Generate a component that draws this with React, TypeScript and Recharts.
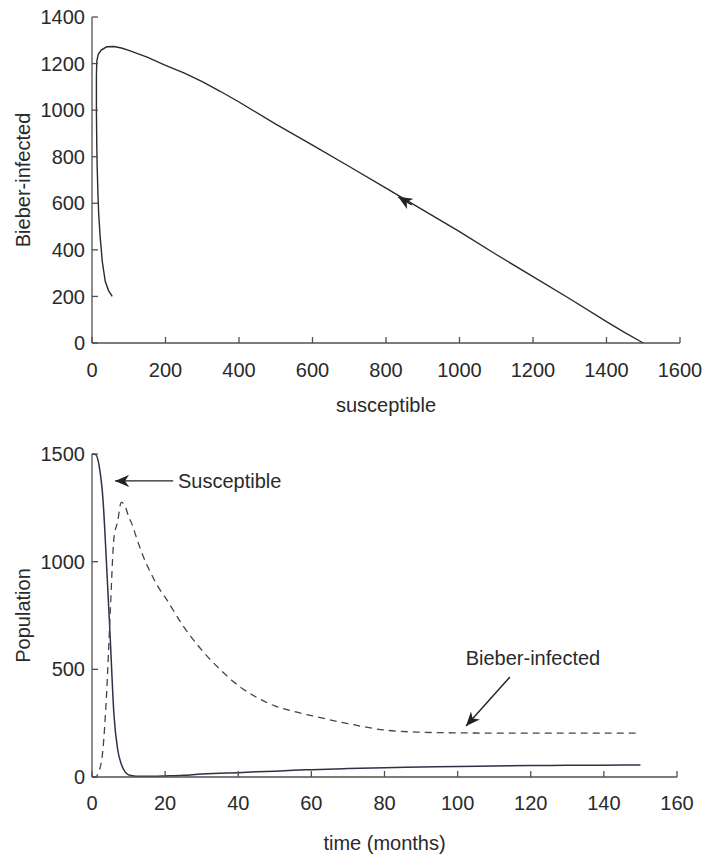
import React from "react";
import { LineChart, Line, XAxis, YAxis, ReferenceLine, ReferenceDot } from "recharts";

// phase plane: trajectory from (1500, 0) up to the peak and back down
const phaseSusceptible = [1500, 1450, 1400, 1300, 1200, 1100, 1000, 900, 800, 700, 600, 500, 400, 350, 300, 250, 200, 150, 100, 80, 60, 40, 25, 17, 13, 12, 12, 13, 14, 16, 18, 22, 28, 36, 45, 55];
const phaseInfected = [0, 45, 92, 190, 285, 380, 478, 572, 665, 758, 850, 940, 1035, 1080, 1122, 1160, 1192, 1228, 1257, 1267, 1273, 1272, 1258, 1240, 1210, 1150, 1000, 850, 760, 650, 560, 460, 350, 265, 225, 200];

// time series
const months = [0, 1, 2, 3, 4, 5, 6, 7, 8, 9, 10, 11, 12, 14, 16, 18, 20, 25, 30, 35, 40, 45, 50, 55, 60, 70, 80, 90, 100, 110, 120, 130, 140, 150];
const susceptible = [1500, 1497, 1440, 1290, 980, 640, 290, 130, 60, 25, 10, 6, 4, 3, 3, 4, 5, 8, 14, 17, 20, 24, 27, 31, 34, 39, 43, 46, 49, 51, 53, 54, 55, 56];
const infected = [0, 2, 30, 130, 390, 770, 1110, 1185, 1275, 1260, 1210, 1172, 1120, 1025, 950, 885, 835, 700, 590, 500, 425, 370, 330, 305, 285, 248, 218, 208, 205, 204, 204, 204, 204, 204];

const phaseXTicks = [0, 200, 400, 600, 800, 1000, 1200, 1400, 1600];
const phaseYTicks = [0, 200, 400, 600, 800, 1000, 1200, 1400];
const timeTicks = [0, 20, 40, 60, 80, 100, 120, 140, 160];
const popTicks = [0, 500, 1000, 1500];

const phaseData = phaseSusceptible.map((s, k) => ({ s, i: phaseInfected[k] }));
const timeData = months.map((t, k) => ({ t, s: susceptible[k], i: infected[k] }));

const FONT = "'Liberation Sans', Arial, sans-serif";
const AX = "#505050";
const tickStyle = { fill: "#2a2a2a", fontSize: 20, fontFamily: FONT };
const blank = () => "";

function VLabel({ viewBox, text }: any) {
  const x = 23;
  const y = viewBox ? viewBox.y + viewBox.height / 2 : 0;
  return (
    <text x={x} y={y} transform={`rotate(-90 ${x} ${y})`} textAnchor="middle" dominantBaseline="central" fill="#2a2a2a" fontSize={20} fontFamily={FONT}>
      {text}
    </text>
  );
}

function HLabel({ viewBox, text, dy }: any) {
  const x = viewBox ? viewBox.x + viewBox.width / 2 : 0;
  const y = viewBox ? viewBox.y + dy : 0;
  return (
    <text x={x} y={y} textAnchor="middle" dominantBaseline="central" fill="#2a2a2a" fontSize={20} fontFamily={FONT}>
      {text}
    </text>
  );
}

const arrow = (p: any) => (
  <line x1={p.x1} y1={p.y1} x2={p.x2} y2={p.y2} stroke="#222" strokeWidth={1.4} markerEnd="url(#ah)" />
);

const note = (text: string, anchor: string) => (p: any) => (
  <text x={p.cx} y={p.cy} textAnchor={anchor} dominantBaseline="central" fill="#2a2a2a" fontSize={20} fontFamily={FONT}>
    {text}
  </text>
);

export default function App() {
  return (
    <div style={{ position: "absolute", left: 0, top: 0, width: 707, height: 854, background: "#fff" }}>
      <svg width={0} height={0} style={{ position: "absolute" }}>
        <defs>
          <marker id="ah" markerUnits="userSpaceOnUse" markerWidth={16} markerHeight={12} refX={14} refY={6} orient="auto" viewBox="0 0 16 12">
            <path d="M0,0 L14,6 L0,12 L4,6 Z" fill="#222" />
          </marker>
        </defs>
      </svg>

      <div style={{ position: "absolute", left: 0, top: 0 }}>
        <LineChart width={707} height={430} data={phaseData} margin={{ top: 17, right: 27, bottom: 0, left: 0 }}>
          <XAxis dataKey="s" type="number" domain={[0, 1600]} ticks={phaseXTicks} interval={0} height={87}
            stroke={AX} strokeWidth={1.3} tickSize={-6} tickMargin={26} tick={tickStyle}
            label={<HLabel text="susceptible" dy={62} />} />
          <XAxis xAxisId="top" orientation="top" type="number" domain={[0, 1600]} ticks={phaseXTicks} interval={0} height={0}
            stroke={AX} strokeWidth={1.3} tickSize={-6} tickFormatter={blank} />
          <YAxis type="number" domain={[0, 1400]} ticks={phaseYTicks} interval={0} width={92}
            stroke={AX} strokeWidth={1.3} tickSize={-6} tickMargin={13} tick={tickStyle}
            label={<VLabel text="Bieber-infected" />} />
          <YAxis yAxisId="right" orientation="right" type="number" domain={[0, 1400]} ticks={phaseYTicks} interval={0} width={0}
            stroke={AX} strokeWidth={1.3} tickSize={-6} tickFormatter={blank} />
          <Line dataKey="i" type="linear" stroke="#2b2b2b" strokeWidth={1.4} dot={false} isAnimationActive={false} />
          <ReferenceLine segment={[{ x: 870, y: 593 }, { x: 833, y: 628 }]} shape={arrow} />
        </LineChart>
      </div>

      <div style={{ position: "absolute", left: 0, top: 430 }}>
        <LineChart width={707} height={424} data={timeData} margin={{ top: 24, right: 30, bottom: 0, left: 0 }}>
          <XAxis dataKey="t" type="number" domain={[0, 160]} ticks={timeTicks} interval={0} height={77}
            stroke={AX} strokeWidth={1.3} tickSize={-6} tickMargin={25} tick={tickStyle}
            label={<HLabel text="time (months)" dy={66} />} />
          <XAxis xAxisId="top" orientation="top" type="number" domain={[0, 160]} ticks={timeTicks} interval={0} height={0}
            stroke={AX} strokeWidth={1.3} tickSize={-6} tickFormatter={blank} />
          <YAxis type="number" domain={[0, 1500]} ticks={popTicks} interval={0} width={92}
            stroke={AX} strokeWidth={1.3} tickSize={-6} tickMargin={13} tick={tickStyle}
            label={<VLabel text="Population" />} />
          <YAxis yAxisId="right" orientation="right" type="number" domain={[0, 1500]} ticks={popTicks} interval={0} width={0}
            stroke={AX} strokeWidth={1.3} tickSize={-6} tickFormatter={blank} />
          <Line dataKey="s" type="monotone" stroke="#303048" strokeWidth={1.5} dot={false} isAnimationActive={false} />
          <Line dataKey="i" type="monotone" stroke="#444" strokeWidth={1.3} strokeDasharray="7 5" dot={false} isAnimationActive={false} />
          <ReferenceLine segment={[{ x: 22.2, y: 1375 }, { x: 6.3, y: 1375 }]} shape={arrow} />
          <ReferenceDot x={23.5} y={1375} r={0} shape={note("Susceptible", "start")} />
          <ReferenceLine segment={[{ x: 114.3, y: 464 }, { x: 102.3, y: 237 }]} shape={arrow} />
          <ReferenceDot x={120.6} y={553} r={0} shape={note("Bieber-infected", "middle")} />
        </LineChart>
      </div>
    </div>
  );
}
